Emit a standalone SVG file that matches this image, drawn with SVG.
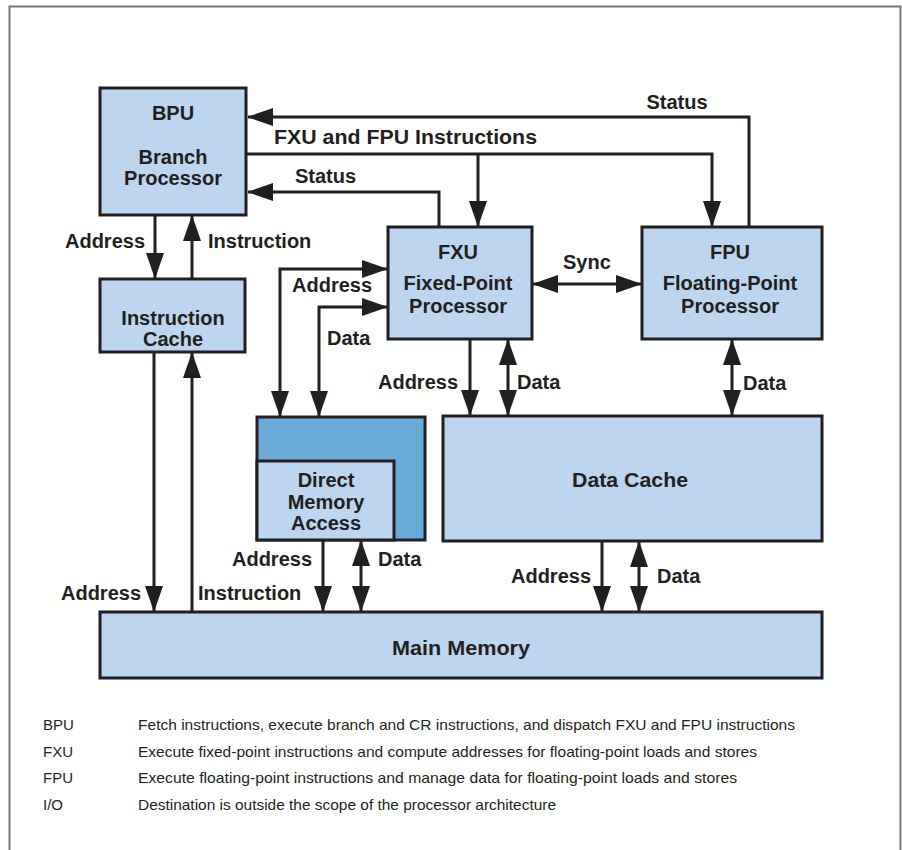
<svg xmlns="http://www.w3.org/2000/svg" width="902" height="850" viewBox="0 0 902 850">
<style>
.box{fill:#BDD5EE;stroke:#231F20;stroke-width:3}
.dark{fill:#6AAAD9;stroke:#231F20;stroke-width:3}
.t{font-family:"Liberation Sans",Arial,sans-serif;font-weight:bold;font-size:20px;fill:#231F20}
.c{text-anchor:middle}
.e{text-anchor:end}
.w{fill:none;stroke:#231F20;stroke-width:3}
.lg{font-family:"Liberation Sans",Arial,sans-serif;font-size:15px;fill:#231F20}
</style>
<defs>
<marker id="ah" markerUnits="userSpaceOnUse" markerWidth="26" markerHeight="18" viewBox="0 0 26 18" refX="25" refY="9" orient="auto-start-reverse">
<path d="M0,0 L26,9 L0,18 Z" fill="#231F20"/>
</marker>
</defs>
<rect width="902" height="850" fill="#fff"/>
<path d="M9.5,850 V6.5 H900.5 V850" fill="none" stroke="#777" stroke-width="2"/>

<g id="connectors">
<path class="w" d="M749,227 V117 H248" marker-end="url(#ah)"/>
<path class="w" d="M246,154 H712 V226" marker-end="url(#ah)"/>
<path class="w" d="M478,154 V226" marker-end="url(#ah)"/>
<path class="w" d="M439,227 V192 H248" marker-end="url(#ah)"/>
<path class="w" d="M155,215 V278" marker-end="url(#ah)"/>
<path class="w" d="M192,279 V216" marker-end="url(#ah)"/>
<path class="w" d="M154,352 V611" marker-end="url(#ah)"/>
<path class="w" d="M192,612 V353" marker-end="url(#ah)"/>
<path class="w" d="M387,269 H280 V416" marker-start="url(#ah)" marker-end="url(#ah)"/>
<path class="w" d="M387,307 H319 V416" marker-start="url(#ah)" marker-end="url(#ah)"/>
<path class="w" d="M533,284 H641" marker-start="url(#ah)" marker-end="url(#ah)"/>
<path class="w" d="M470,339 V415" marker-end="url(#ah)"/>
<path class="w" d="M508,340 V415" marker-start="url(#ah)" marker-end="url(#ah)"/>
<path class="w" d="M732,340 V415" marker-start="url(#ah)" marker-end="url(#ah)"/>
<path class="w" d="M323,540 V611" marker-end="url(#ah)"/>
<path class="w" d="M361,541 V611" marker-start="url(#ah)" marker-end="url(#ah)"/>
<path class="w" d="M602,541 V611" marker-end="url(#ah)"/>
<path class="w" d="M639,542 V611" marker-start="url(#ah)" marker-end="url(#ah)"/>
<text class="t c" x="677" y="109">Status</text>
<text class="t" x="274" y="144" textLength="263" lengthAdjust="spacingAndGlyphs">FXU and FPU Instructions</text>
<text class="t" x="295" y="183">Status</text>
<text class="t e" x="145" y="248">Address</text>
<text class="t" x="208" y="248">Instruction</text>
<text class="t" x="292" y="292">Address</text>
<text class="t" x="327" y="345">Data</text>
<text class="t" x="563" y="269">Sync</text>
<text class="t e" x="458" y="389">Address</text>
<text class="t" x="517" y="389">Data</text>
<text class="t" x="743" y="390">Data</text>
<text class="t e" x="312" y="566">Address</text>
<text class="t" x="378" y="566">Data</text>
<text class="t e" x="141" y="600">Address</text>
<text class="t" x="198" y="600">Instruction</text>
<text class="t e" x="591" y="583">Address</text>
<text class="t" x="657" y="583">Data</text>
</g>

<g id="bpu">
<rect class="box" x="100" y="88" width="146" height="127"/>
<text class="t c" x="173" y="120">BPU</text>
<text class="t c" x="173" y="164">Branch</text>
<text class="t c" x="173" y="185">Processor</text>
</g>
<g id="icache">
<rect class="box" x="100" y="279" width="145" height="73"/>
<text class="t c" x="173" y="325">Instruction</text>
<text class="t c" x="173" y="346">Cache</text>
</g>
<g id="fxu">
<rect class="box" x="388" y="227" width="144" height="112"/>
<text class="t c" x="458" y="259">FXU</text>
<text class="t c" x="458" y="290">Fixed-Point</text>
<text class="t c" x="458" y="313">Processor</text>
</g>
<g id="fpu">
<rect class="box" x="642" y="227" width="180" height="112"/>
<text class="t c" x="730" y="259">FPU</text>
<text class="t c" x="730" y="290">Floating-Point</text>
<text class="t c" x="730" y="313">Processor</text>
</g>
<g id="dma">
<rect class="dark" x="257" y="417" width="168" height="123"/>
<rect class="box" x="257" y="461" width="137" height="79"/>
<text class="t c" x="326" y="487">Direct</text>
<text class="t c" x="326" y="509">Memory</text>
<text class="t c" x="326" y="530">Access</text>
</g>
<g id="dcache">
<rect class="box" x="443" y="416" width="379" height="125"/>
<text class="t c" x="630" y="487" textLength="116" lengthAdjust="spacingAndGlyphs">Data Cache</text>
</g>
<g id="mainmem">
<rect class="box" x="100" y="612" width="722" height="66"/>
<text class="t c" x="461" y="655" textLength="138" lengthAdjust="spacingAndGlyphs">Main Memory</text>
</g>

<g id="legend">
<text class="lg" x="43" y="730">BPU</text>
<text class="lg" x="138" y="730" textLength="657" lengthAdjust="spacingAndGlyphs">Fetch instructions, execute branch and CR instructions, and dispatch FXU and FPU instructions</text>
<text class="lg" x="43" y="757">FXU</text>
<text class="lg" x="138" y="757" textLength="619" lengthAdjust="spacingAndGlyphs">Execute fixed-point instructions and compute addresses for floating-point loads and stores</text>
<text class="lg" x="43" y="783">FPU</text>
<text class="lg" x="138" y="783" textLength="599" lengthAdjust="spacingAndGlyphs">Execute floating-point instructions and manage data for floating-point loads and stores</text>
<text class="lg" x="43" y="810">I/O</text>
<text class="lg" x="138" y="810" textLength="418" lengthAdjust="spacingAndGlyphs">Destination is outside the scope of the processor architecture</text>
</g>
</svg>
